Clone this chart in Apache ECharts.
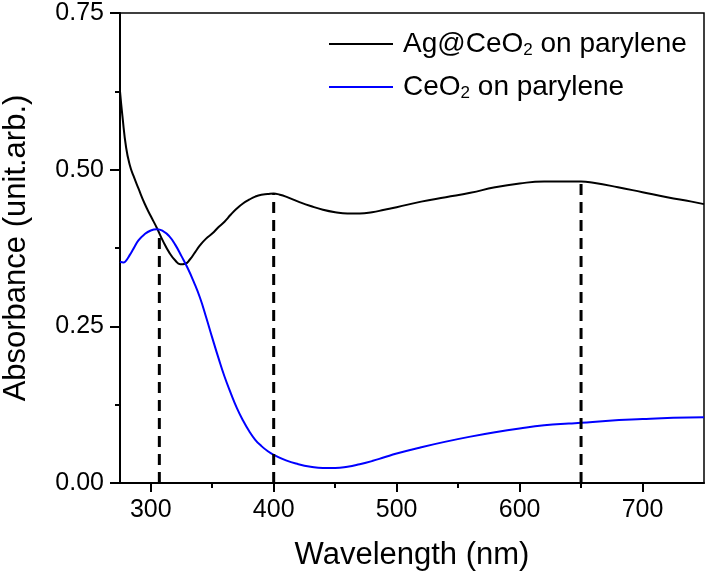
<!DOCTYPE html>
<html>
<head>
<meta charset="utf-8">
<script src="https://cdn.jsdelivr.net/npm/echarts@6/dist/echarts.min.js"></script>
<style>html,body{margin:0;padding:0;background:#fff}#c{width:707px;height:576px}</style>
</head>
<body>
<div id="c"></div>
<script>
// Ag@CeO2 on parylene (black)
const agWl = [275,277,280,283,286,290,295,300,305,310,315,320,324,328,332,336,340,345,350,355,360,365,370,375,380,385,390,395,400,405,410,415,420,430,440,450,460,470,480,490,500,520,540,560,580,600,620,640,650,660,680,700,720,740,750];
const agAbs = [0.625,0.585,0.535,0.507,0.490,0.470,0.446,0.426,0.407,0.386,0.368,0.355,0.349,0.350,0.357,0.368,0.379,0.390,0.398,0.408,0.417,0.428,0.438,0.446,0.452,0.457,0.460,0.461,0.462,0.460,0.457,0.453,0.449,0.442,0.436,0.432,0.430,0.430,0.432,0.436,0.440,0.449,0.456,0.463,0.472,0.478,0.481,0.481,0.481,0.479,0.472,0.464,0.456,0.449,0.445];
// CeO2 on parylene (blue)
const ceWl = [275,278,280,283,286,290,295,300,305,310,315,320,325,330,335,340,345,350,355,360,365,370,375,380,385,390,395,400,410,420,430,440,450,460,470,480,490,500,520,540,560,580,600,620,640,650,670,700,725,750];
const ceAbs = [0.353,0.352,0.355,0.364,0.374,0.387,0.397,0.403,0.405,0.402,0.394,0.380,0.362,0.343,0.321,0.296,0.265,0.232,0.200,0.170,0.144,0.120,0.100,0.083,0.069,0.059,0.051,0.045,0.036,0.030,0.026,0.024,0.024,0.026,0.030,0.035,0.041,0.047,0.057,0.066,0.074,0.081,0.087,0.092,0.095,0.096,0.099,0.102,0.104,0.105];
// marked peaks (dashed drop lines)
const peakWl = [307, 400, 650];
const peakAbs = [0.400, 0.461, 0.481];
// ticks
const xMajorTicks = [300,400,500,600,700];
const xMinorTicks = [350,450,550,650];
const yMin = 0, yMax = 0.75, yStep = 0.25;
const xMin = 275, xMax = 750;
const seriesNames = ['Ag@CeO2 on parylene', 'CeO2 on parylene'];

const FONT = 'Liberation Sans, Arial, sans-serif';
const chart = echarts.init(document.getElementById('c'), null, {renderer: 'canvas'});

const dropSeries = peakWl.map((w, i) => ({
  type: 'line',
  name: 'peak' + i,
  data: [[w, 0], [w, peakAbs[i]]],
  symbol: 'none',
  silent: true,
  z: 5,
  lineStyle: {color: '#000', width: 3, type: [11, 7]}
}));

chart.setOption({
  animation: false,
  backgroundColor: '#fff',
  grid: {left: 120, right: 3, top: 13, bottom: 93, show: true, borderColor: '#000', borderWidth: 1.5,
    containLabel: false, outerBoundsMode: 'none'},
  legend: {
    data: seriesNames,
    orient: 'vertical',
    left: 329,
    top: 30,
    padding: 0,
    icon: 'rect',
    itemWidth: 64,
    itemHeight: 2,
    itemGap: 14,
    formatter: function (n) {
      return n === seriesNames[0]
        ? '{p|Ag@CeO}{s|2}{a| on parylene}'
        : '{p|CeO}{s|2}{a| on parylene}';
    },
    textStyle: {
      color: '#000',
      fontFamily: FONT,
      rich: {
        p: {fontSize: 28, fontFamily: FONT, color: '#000', lineHeight: 30, padding: [0, 0, 0, 5]},
        a: {fontSize: 28, fontFamily: FONT, color: '#000', lineHeight: 30},
        s: {fontSize: 17, fontFamily: FONT, color: '#000', lineHeight: 16, verticalAlign: 'bottom'}
      }
    }
  },
  xAxis: [{
    type: 'value', min: xMin, max: xMax,
    name: 'Wavelength (nm)', nameLocation: 'middle', nameGap: 57,
    nameTextStyle: {fontSize: 31, fontFamily: FONT, color: '#000'},
    axisLine: {show: true, lineStyle: {color: '#000', width: 2}},
    axisTick: {show: true, customValues: xMajorTicks, length: 9, lineStyle: {color: '#000', width: 2}},
    axisLabel: {customValues: xMajorTicks, fontSize: 25, fontFamily: FONT, color: '#000', margin: 15},
    splitLine: {show: false}
  }, {
    type: 'value', min: xMin, max: xMax, position: 'bottom',
    axisLine: {show: false},
    axisTick: {show: true, customValues: xMinorTicks, length: 5, lineStyle: {color: '#000', width: 2}},
    axisLabel: {show: false},
    splitLine: {show: false}
  }],
  yAxis: {
    type: 'value', min: yMin, max: yMax, interval: yStep,
    name: 'Absorbance (unit.arb.)', nameLocation: 'middle', nameGap: 88,
    nameTextStyle: {fontSize: 31, fontFamily: FONT, color: '#000'},
    axisLine: {show: true, lineStyle: {color: '#000', width: 2}},
    axisTick: {show: true, length: 10, lineStyle: {color: '#000', width: 2}},
    minorTick: {show: true, splitNumber: 2, length: 5, lineStyle: {color: '#000', width: 2}},
    axisLabel: {fontSize: 25, fontFamily: FONT, color: '#000', margin: 16,
      formatter: v => v.toFixed(2)},
    splitLine: {show: false},
    minorSplitLine: {show: false}
  },
  series: [{
    type: 'line', name: seriesNames[0],
    data: agWl.map((w, i) => [w, agAbs[i]]),
    symbol: 'none', smooth: 0.5, z: 3,
    lineStyle: {color: '#000', width: 2}, itemStyle: {color: '#000'}
  }, {
    type: 'line', name: seriesNames[1],
    data: ceWl.map((w, i) => [w, ceAbs[i]]),
    symbol: 'none', smooth: 0.5, z: 3,
    lineStyle: {color: '#0000ff', width: 2}, itemStyle: {color: '#0000ff'}
  }].concat(dropSeries)
});
</script>
</body>
</html>
